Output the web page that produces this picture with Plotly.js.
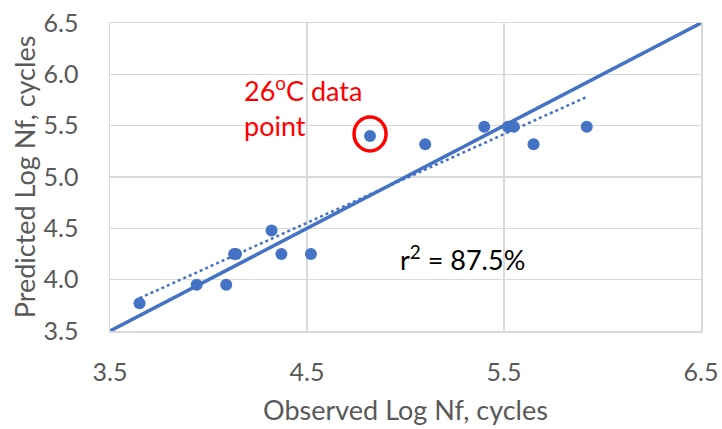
<!DOCTYPE html>
<html>
<head>
<meta charset="utf-8">
<script src="https://cdn.plot.ly/plotly-3.0.1.min.js"></script>
<style>html,body{margin:0;padding:0;background:#fff;}#chart{width:722px;height:429px;}</style>
</head>
<body>
<div id="chart"></div>
<script>
// Observed vs predicted log fatigue life
const observedLogNf = [3.65, 3.94, 4.09, 4.13, 4.14, 4.32, 4.37, 4.52, 4.82, 5.10, 5.40, 5.52, 5.55, 5.65, 5.92];
const predictedLogNf = [3.77, 3.95, 3.95, 4.25, 4.25, 4.48, 4.25, 4.25, 5.40, 5.32, 5.49, 5.49, 5.49, 5.32, 5.49];
// 1:1 line
const unityX = [3.5, 6.5];
const unityY = [3.5, 6.5];
// linear trendline endpoints
const trendX = [3.65, 5.92];
const trendY = [3.82, 5.78];
// highlighted point
const highlightX = 4.82;
const highlightY = 5.42;
const tickVals = [3.5, 4.0, 4.5, 5.0, 5.5, 6.0, 6.5];
const xTickVals = [3.5, 4.5, 5.5, 6.5];

const FONT = 'Lato, "Open Sans", sans-serif';
const BLUE = '#4472C4';
const GREY = '#595959';

const traces = [
  {x: unityX, y: unityY, mode: 'lines', line: {color: BLUE, width: 3.5}, hoverinfo: 'skip'},
  {x: trendX, y: trendY, mode: 'lines', line: {color: BLUE, width: 2.5, dash: 'dot'}, hoverinfo: 'skip'},
  {x: observedLogNf, y: predictedLogNf, mode: 'markers', marker: {color: BLUE, size: 12}}
];

const layout = {
  width: 722, height: 429,
  margin: {l: 110, r: 21, t: 23, b: 98},
  showlegend: false,
  paper_bgcolor: '#fff', plot_bgcolor: '#fff',
  font: {family: FONT, color: GREY},
  xaxis: {
    range: [3.5, 6.5], tickvals: xTickVals, ticktext: xTickVals.map(v => v.toFixed(1)),
    showgrid: true, gridcolor: '#D9D9D9', gridwidth: 1.5,
    showline: true, linecolor: '#D9D9D9', linewidth: 1.5, mirror: true,
    zeroline: false,
    ticks: 'outside', ticklen: 18, tickcolor: 'rgba(0,0,0,0)',
    tickfont: {size: 25, color: GREY, family: FONT},
    title: {text: 'Observed Log Nf, cycles', font: {size: 27, color: GREY, family: FONT}, standoff: 16}
  },
  yaxis: {
    range: [3.5, 6.5], tickvals: tickVals, ticktext: tickVals.map(v => v.toFixed(1)),
    showgrid: true, gridcolor: '#D9D9D9', gridwidth: 1.5,
    showline: true, linecolor: '#D9D9D9', linewidth: 1.5, mirror: true,
    zeroline: false,
    ticks: 'outside', ticklen: 25, tickcolor: 'rgba(0,0,0,0)',
    tickfont: {size: 25, color: GREY, family: FONT},
    title: {text: 'Predicted Log Nf, cycles', font: {size: 27, color: GREY, family: FONT}, standoff: 0}
  },
  shapes: [{
    type: 'circle', xref: 'x', yref: 'y',
    xsizemode: 'pixel', ysizemode: 'pixel',
    xanchor: highlightX, yanchor: highlightY,
    x0: -16, x1: 16, y0: -17, y1: 17,
    line: {color: '#FF0000', width: 3.5}
  }],
  annotations: [
    {x: 3.5 + (242 - 110) / 196.9, y: 5.69, xref: 'x', yref: 'y', xanchor: 'left', yanchor: 'middle', align: 'left',
     showarrow: false, text: '26<sup>o</sup>C data<br>point', font: {size: 27, color: '#FF0000', family: FONT}},
    {x: 5.288, y: 4.21, xref: 'x', yref: 'y', xanchor: 'center', yanchor: 'middle', showarrow: false,
     text: 'r<sup>2</sup> = 87.5%', font: {size: 27, color: '#000000', family: FONT}}
  ]
};

Plotly.newPlot('chart', traces, layout, {displayModeBar: false, staticPlot: true});
</script>
</body>
</html>
